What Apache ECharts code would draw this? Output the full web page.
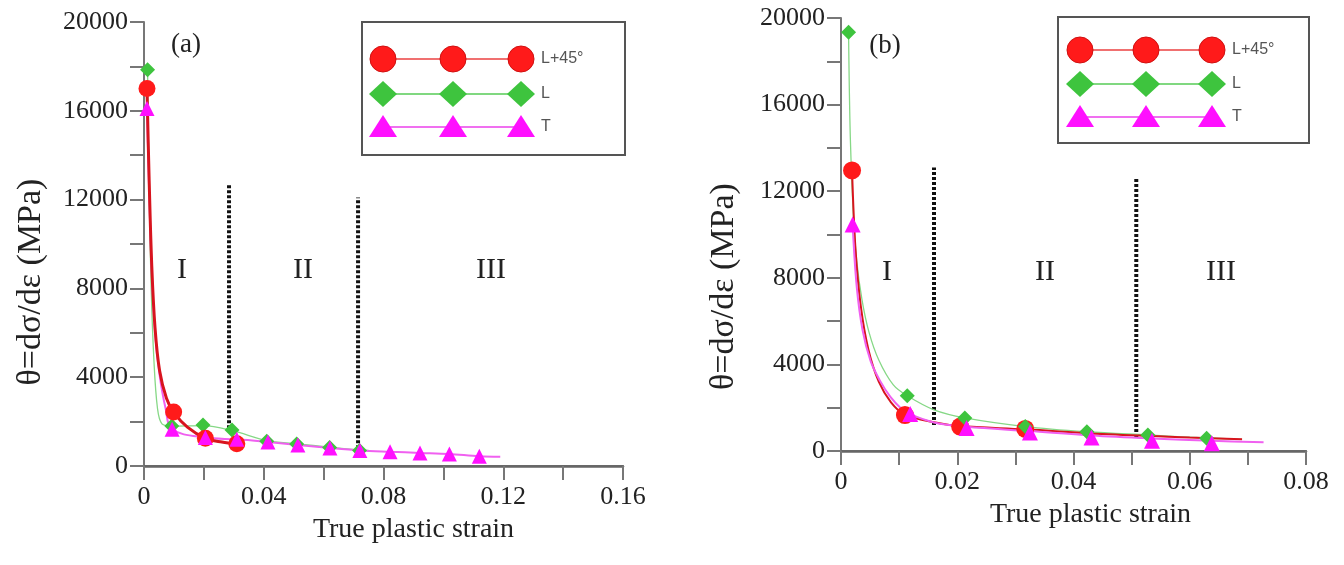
<!DOCTYPE html>
<html>
<head>
<meta charset="utf-8">
<title>Work hardening rate</title>
<script src="https://cdn.jsdelivr.net/npm/echarts@6/dist/echarts.min.js"></script>
<style>
html, body { margin: 0; background: #fff; }
#main { width: 1344px; height: 565px; }
</style>
</head>
<body>
<div id="main"></div>
<script>
// ---- panel (a) ----
var redMarkA = [[0.001, 17000], [0.0099, 2430], [0.0205, 1250], [0.031, 1000]];
var redCurveA = [[0.001, 17000], [0.0017, 13000], [0.0026, 9000], [0.0037, 6200], [0.0052, 4300], [0.0075, 3050],
    [0.0099, 2430], [0.0145, 1750], [0.0205, 1250], [0.026, 1080], [0.031, 1000]];
var greenMarkA = [[0.0012, 17850], [0.0093, 1800], [0.0197, 1850], [0.0294, 1620], [0.041, 1120], [0.051, 990],
    [0.062, 830], [0.072, 700]];
var greenCurveA = [[0.0012, 17850], [0.0017, 12500], [0.0024, 8000], [0.0033, 4800], [0.0045, 2600], [0.006, 1900],
    [0.0093, 1800], [0.0197, 1820], [0.0294, 1600], [0.041, 1140], [0.051, 1000], [0.062, 850], [0.072, 720], [0.075, 700]];
var magentaMarkA = [[0.001, 16100], [0.0094, 1650], [0.0205, 1280], [0.031, 1200], [0.0414, 1080], [0.0514, 950],
    [0.0621, 810], [0.0721, 700], [0.0822, 640], [0.0922, 590], [0.102, 540], [0.112, 440]];
var magentaCurveA = [[0.001, 16100], [0.0017, 12500], [0.0026, 8700], [0.0037, 6000], [0.0052, 4100], [0.0072, 2600],
    [0.0094, 1650], [0.0205, 1280], [0.031, 1200], [0.0414, 1080], [0.0514, 950], [0.0621, 810], [0.0721, 700],
    [0.0822, 640], [0.0922, 590], [0.102, 540], [0.112, 440], [0.119, 420]];
var stageLinesA = [[[0.0284, 1700], [0.0284, 12700]], [[0.0715, 800], [0.0715, 12100]]];

// ---- panel (b) ----
var redMarkB = [[0.0019, 12960], [0.011, 1660], [0.0205, 1130], [0.0317, 1020]];
var redCurveB = [[0.0019, 12960], [0.0025, 9300], [0.0034, 6700], [0.0047, 4700], [0.0065, 3200], [0.0086, 2250],
    [0.011, 1680], [0.016, 1330], [0.0205, 1150], [0.0317, 1000], [0.045, 780], [0.06, 620], [0.069, 540]];
var greenMarkB = [[0.0013, 19340], [0.0114, 2550], [0.0213, 1530], [0.0317, 1130], [0.0423, 890], [0.0528, 740], [0.0629, 590]];
var greenCurveB = [[0.0013, 19340], [0.0016, 14500], [0.0021, 11000], [0.0027, 8800], [0.0036, 7000], [0.0048, 5500],
    [0.0065, 4200], [0.009, 3050], [0.0114, 2550], [0.016, 1900], [0.0213, 1530], [0.0317, 1130], [0.0423, 890],
    [0.0528, 740], [0.0629, 600], [0.069, 540]];
var magentaMarkB = [[0.002, 10460], [0.0119, 1710], [0.0216, 1060], [0.0325, 850], [0.0431, 620], [0.0535, 470], [0.0638, 360]];
var magentaCurveB = [[0.002, 10460], [0.0027, 7600], [0.0037, 5600], [0.0051, 4150], [0.0067, 3250], [0.0085, 2500],
    [0.0103, 1980], [0.0119, 1700], [0.016, 1320], [0.0216, 1120], [0.0325, 920], [0.0431, 720], [0.0535, 580],
    [0.0638, 470], [0.0727, 400]];
var stageLinesB = [[[0.016, 1200], [0.016, 13100]], [[0.0508, 650], [0.0508, 12600]]];

var seriesNames = ['L+45°', 'L', 'T'];
var stageNames = ['I', 'II', 'III'];

var SERIF = '"Liberation Serif", "DejaVu Serif", serif';
var RED = '#ff1a1a', GREEN = '#3ec43e', MAGENTA = '#ff10ff';

function curve(idx, data, color, width) {
    return { type: 'line', xAxisIndex: idx * 2, yAxisIndex: idx, data: data, smooth: 0.35,
        showSymbol: false, silent: true, lineStyle: { color: color, width: width } };
}
function marks(idx, data, symbol, color, size) {
    return { type: 'scatter', xAxisIndex: idx * 2, yAxisIndex: idx, data: data, symbol: symbol, symbolSize: size,
        silent: true, itemStyle: { color: color, opacity: 1 }, z: 4 };
}
function stageLine(idx, data) {
    return { type: 'line', xAxisIndex: idx * 2, yAxisIndex: idx, data: data, showSymbol: false, silent: true, z: 3,
        lineStyle: { color: '#111', width: 4, type: [3, 2], cap: 'butt' } };
}

function xLabel(step) {
    return function (v) {
        if (Math.round(v * 100) % step !== 0) return '';
        return v === 0 ? '0' : v.toFixed(2);
    };
}
function bottomAxis(grid, max, interval, step, pad) {
    return { type: 'value', gridIndex: grid, min: 0, max: max, interval: interval, position: 'bottom',
        name: 'True plastic strain', nameLocation: 'middle', nameGap: 50,
        nameTextStyle: { fontFamily: SERIF, fontSize: 28, color: '#222', padding: pad },
        axisLine: { onZero: false, lineStyle: { color: '#777', width: 2 } },
        axisTick: { length: 14, lineStyle: { color: '#777', width: 2 } },
        axisLabel: { formatter: xLabel(step), fontFamily: SERIF, fontSize: 26, color: '#222', margin: 18 },
        splitLine: { show: false } };
}
function topAxis(grid, max) {
    return { type: 'value', gridIndex: grid, min: 0, max: max, position: 'top',
        axisLine: { lineStyle: { color: '#666', width: 2.5 } }, axisTick: { show: false },
        axisLabel: { show: false }, splitLine: { show: false } };
}
function leftAxis(grid, gap, pad) {
    return { type: 'value', gridIndex: grid, min: 0, max: 20000, interval: 2000,
        name: 'θ=dσ/dε (MPa)', nameLocation: 'middle', nameGap: gap,
        nameTextStyle: { fontFamily: SERIF, fontSize: 34, color: '#222', padding: pad },
        axisLine: { onZero: false, lineStyle: { color: '#777', width: 2 } },
        axisTick: { length: 14, lineStyle: { color: '#777', width: 2 } },
        axisLabel: { formatter: function (v) { return v % 4000 === 0 ? String(v) : ''; },
            fontFamily: SERIF, fontSize: 26, color: '#222', margin: 16 },
        splitLine: { show: false } };
}

// legend drawn as the original: three markers joined by a line
function legendBox(x0, y0, x1, y1, xs, ys, tx) {
    var els = [{ type: 'rect', shape: { x: x0, y: y0, width: x1 - x0, height: y1 - y0 },
        style: { fill: '#fff', stroke: '#555', lineWidth: 2 }, z: 10 }];
    var lineCols = ['#f07070', '#80d880', '#f070f0'];
    for (var r = 0; r < 3; r++) {
        var cy = ys[r];
        els.push({ type: 'line', shape: { x1: xs[0], y1: cy, x2: xs[2], y2: cy },
            style: { stroke: lineCols[r], lineWidth: 2 }, z: 11 });
        for (var k = 0; k < 3; k++) {
            var cx = xs[k], el;
            if (r === 0) el = { type: 'circle', shape: { cx: cx, cy: cy, r: 13 }, style: { fill: RED, stroke: '#d01010', lineWidth: 1 } };
            else if (r === 1) el = { type: 'polygon', shape: { points: [[cx, cy - 13], [cx + 14, cy], [cx, cy + 13], [cx - 14, cy]] }, style: { fill: GREEN } };
            else el = { type: 'polygon', shape: { points: [[cx, cy - 12], [cx + 14, cy + 10], [cx - 14, cy + 10]] }, style: { fill: MAGENTA } };
            el.z = 12;
            els.push(el);
        }
        els.push({ type: 'text', x: tx, y: cy, z: 12,
            style: { text: seriesNames[r], font: '16px "Liberation Sans", Arial, sans-serif', fill: '#555', verticalAlign: 'middle' } });
    }
    return els;
}
function label(x, y, txt, size) {
    return { type: 'text', x: x, y: y, z: 12,
        style: { text: txt, font: size + 'px ' + SERIF, fill: '#222', align: 'center', verticalAlign: 'middle' } };
}

var graphics = [].concat(
    legendBox(362, 22, 625, 155, [383, 453, 521], [59, 94, 127], 541),
    legendBox(1058, 17, 1309, 143, [1080, 1146, 1212], [50, 84, 117], 1232),
    [label(186, 45, '(a)', 27), label(885, 46, '(b)', 27),
     label(182, 270, stageNames[0], 30), label(303, 270, stageNames[1], 30), label(491, 270, stageNames[2], 30),
     label(887, 272, stageNames[0], 30), label(1045, 272, stageNames[1], 30), label(1221, 272, stageNames[2], 30)]
);

var chart = echarts.init(document.getElementById('main'));
chart.setOption({
    animation: false,
    backgroundColor: '#fff',
    grid: [
        { left: 144, top: 22, width: 479, height: 444 },
        { left: 841, top: 18, width: 465, height: 433 }
    ],
    xAxis: [bottomAxis(0, 0.16, 0.02, 4, [0, 0, 0, 60]), topAxis(0, 0.16),
            bottomAxis(1, 0.08, 0.01, 2, [0, 0, 0, 34]), topAxis(1, 0.08)],
    yAxis: [leftAxis(0, 96, [0, 76, 0, 0]), leftAxis(1, 100, [0, 104, 0, 0])],
    series: [
        stageLine(0, stageLinesA[0]), stageLine(0, stageLinesA[1]),
        curve(0, greenCurveA, '#86d886', 1.3), curve(0, magentaCurveA, '#f060f0', 2), curve(0, redCurveA, '#d8141e', 3),
        marks(0, greenMarkA, 'diamond', GREEN, 15), marks(0, redMarkA, 'circle', RED, 17), marks(0, magentaMarkA, 'triangle', MAGENTA, 15),
        stageLine(1, stageLinesB[0]), stageLine(1, stageLinesB[1]),
        curve(1, greenCurveB, '#86d886', 1.3), curve(1, redCurveB, '#d8141e', 2), curve(1, magentaCurveB, '#f060f0', 2),
        marks(1, redMarkB, 'circle', RED, 18), marks(1, greenMarkB, 'diamond', GREEN, 15), marks(1, magentaMarkB, 'triangle', MAGENTA, 16)
    ],
    graphic: graphics
});
</script>
</body>
</html>
